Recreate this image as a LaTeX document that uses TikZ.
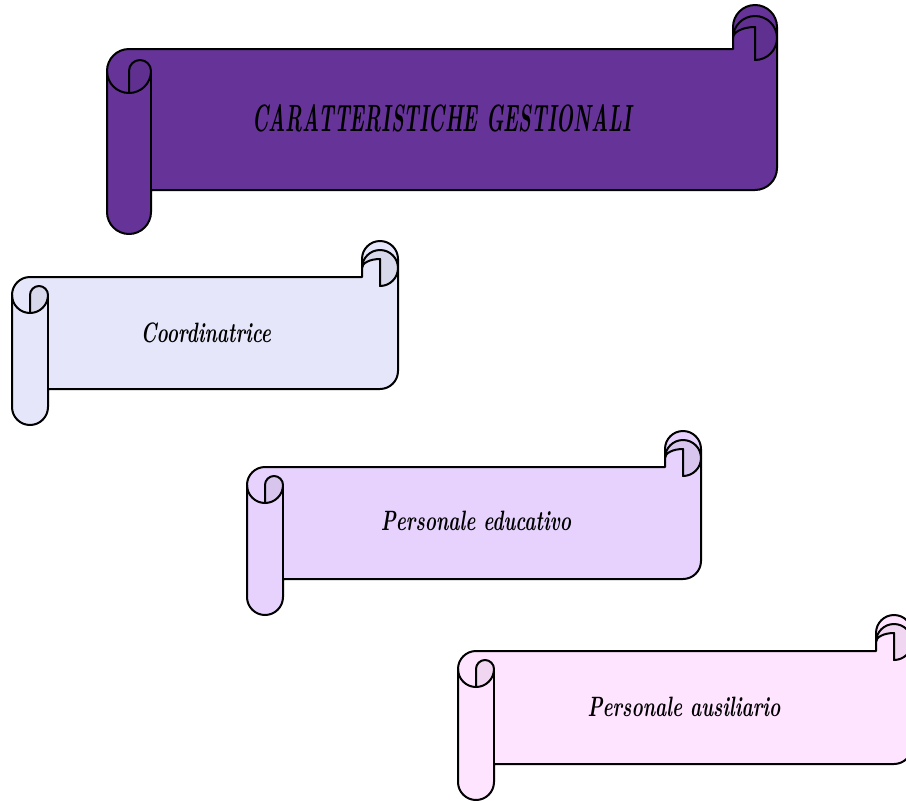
\documentclass[tikz,border=0pt]{standalone}
\usepackage{tikz}
\usepackage{graphicx}

\definecolor{titleviolet}{HTML}{663399}
\definecolor{coordlav}{HTML}{E6E6FA}
\definecolor{educlilac}{HTML}{E6D2FC}
\definecolor{ausilpink}{HTML}{FFE4FF}

\tikzset{
  scrollline/.style={draw=black, line width=2pt, line join=round},
  scrolltext/.style={font=\fontsize{28}{32}\selectfont\bfseries\itshape, inner sep=0pt},
  titletext/.style={font=\bfseries\itshape, inner sep=0pt}
}

% left, top, right, bottom, roll width, colour
\newcommand{\drawscroll}[6]{%
  \pgfmathsetmacro{\scrh}{#5/2}%
  \pgfmathsetmacro{\scrq}{#5/4}%
  \draw[scrollline, fill=#6] (#1,{#2+#5+\scrh})
    arc[start angle=180, end angle=270, radius=\scrh]
    -- ({#3-#5},{#2+#5}) -- ({#3-#5},{#2+\scrh})
    arc[start angle=180, end angle=360, radius=\scrh]
    -- (#3,{#4-#5-\scrh})
    arc[start angle=0, end angle=90, radius=\scrh]
    -- ({#1+#5},{#4-#5}) -- ({#1+#5},{#4-\scrh})
    arc[start angle=0, end angle=180, radius=\scrh] -- cycle;
  \draw[scrollline, fill=#6!94!black] ({#3-#5},{#2+\scrh+\scrq})
    arc[start angle=180, end angle=270, x radius=\scrh, y radius=\scrq]
    -- ({#3-\scrh},{#2+#5+\scrq})
    arc[start angle=90, end angle=0, radius=\scrh]
    arc[start angle=0, end angle=-180, radius=\scrh] -- cycle;
  \draw[scrollline, fill=#6!94!black] ({#1+\scrh},{#2+2*#5}) -- ({#1+\scrh},{#2+#5+\scrh})
    arc[start angle=180, end angle=360, radius=\scrq]
    arc[start angle=0, end angle=90, radius=\scrh] -- cycle;
  \draw[scrollline] ({#1+\scrh},{#2+2*#5}) arc[start angle=90, end angle=180, radius=\scrh];
  \draw[scrollline] ({#1+#5},{#2+#5+\scrh}) -- ({#1+#5},{#4-#5});
}

\begin{document}
\begin{tikzpicture}[x=1pt, y=1pt, yscale=-1]
  \useasboundingbox (0,0) rectangle (906,801);
  \clip (0,0) rectangle (906,801);

  \drawscroll{107}{5}{777}{234}{44}{titleviolet}
  \drawscroll{12}{241}{398}{425}{36}{coordlav}
  \drawscroll{247}{431}{701}{615}{36}{educlilac}
  \drawscroll{458}{615}{912}{800}{36}{ausilpink}

  \node[titletext] (title) at (442,118) {\resizebox{379pt}{27pt}{CARATTERISTICHE GESTIONALI}};
  \node[scrolltext] (coord) at (206,333) {\scalebox{0.68}[1]{Coordinatrice}};
  \node[scrolltext] (educ) at (476,521) {\scalebox{0.68}[1]{Personale educativo}};
  \node[scrolltext] (ausil) at (684,707) {\scalebox{0.68}[1]{Personale ausiliario}};
\end{tikzpicture}
\end{document}
